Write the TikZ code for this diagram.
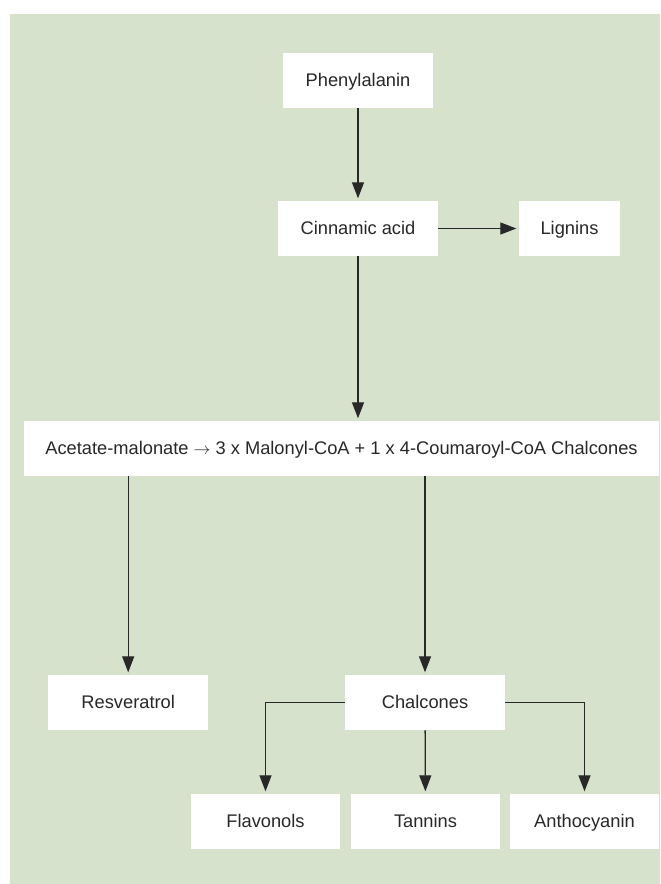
\documentclass[tikz,border=0pt]{standalone}
\usepackage{fontspec}
\setmainfont{Liberation Sans}
\usetikzlibrary{arrows.meta}
\definecolor{leafbg}{RGB}{214,226,203}
\definecolor{inkgray}{RGB}{40,40,40}
\begin{document}
\begin{tikzpicture}[
		box/.style={fill=white,inner sep=0pt,minimum height=1.375cm,text height=2.05ex,text depth=0.45ex,text=inkgray,font=\fontsize{13}{15}\selectfont},
		flow/.style={draw=inkgray,line width=0.9pt,-{Triangle[length=0.4cm,width=0.3cm]},shorten >=0.06cm}
	]

		% Background
		\useasboundingbox (0,0) rectangle (16.5,-22.1);
		\fill[leafbg] (0.2625,-0.35) rectangle (16.5,-22.1);

		% Upper part
		\node[box,minimum width=3.75cm] (phen) at (8.95,-2.0125) {Phenylalanin};
		\node[box,minimum width=4cm] (cinn) at (8.95,-5.7125) {Cinnamic acid};
		\node[box,minimum width=2.525cm] (lign) at (14.2375,-5.7125) {Lignins};
		\node[box,minimum width=15.875cm] (acet) at (8.5375,-11.2125) {Acetate-malonate {\color{inkgray}$\rightarrow$} 3 x Malonyl-CoA + 1 x 4-Coumaroyl-CoA Chalcones};

		\draw[flow] (phen) -- (cinn);
		\draw[flow] (cinn) -- (lign);
		\draw[flow] (cinn.south) -- (cinn.south |- acet.north);

		% Lower part
		\node[box,minimum width=3.99cm] (resv) at (3.205,-17.5625) {Resveratrol};
		\node[box,minimum width=4cm] (chal) at (10.625,-17.5625) {Chalcones};
		\node[box,minimum width=3.725cm] (flav) at (6.6375,-20.5375) {Flavonols};
		\node[box,minimum width=3.725cm] (tann) at (10.6375,-20.5375) {Tannins};
		\node[box,minimum width=3.725cm] (anth) at (14.6125,-20.5375) {Anthocyanin};

		\draw[flow] (resv.north |- acet.south) -- (resv.north);
		\draw[flow] (chal.north |- acet.south) -- (chal.north);
		\draw[flow] (chal.west) -| (flav.north);
		\draw[flow] (chal) -- (tann);
		\draw[flow] (chal.east) -| (anth.north);

	\end{tikzpicture}
\end{document}
